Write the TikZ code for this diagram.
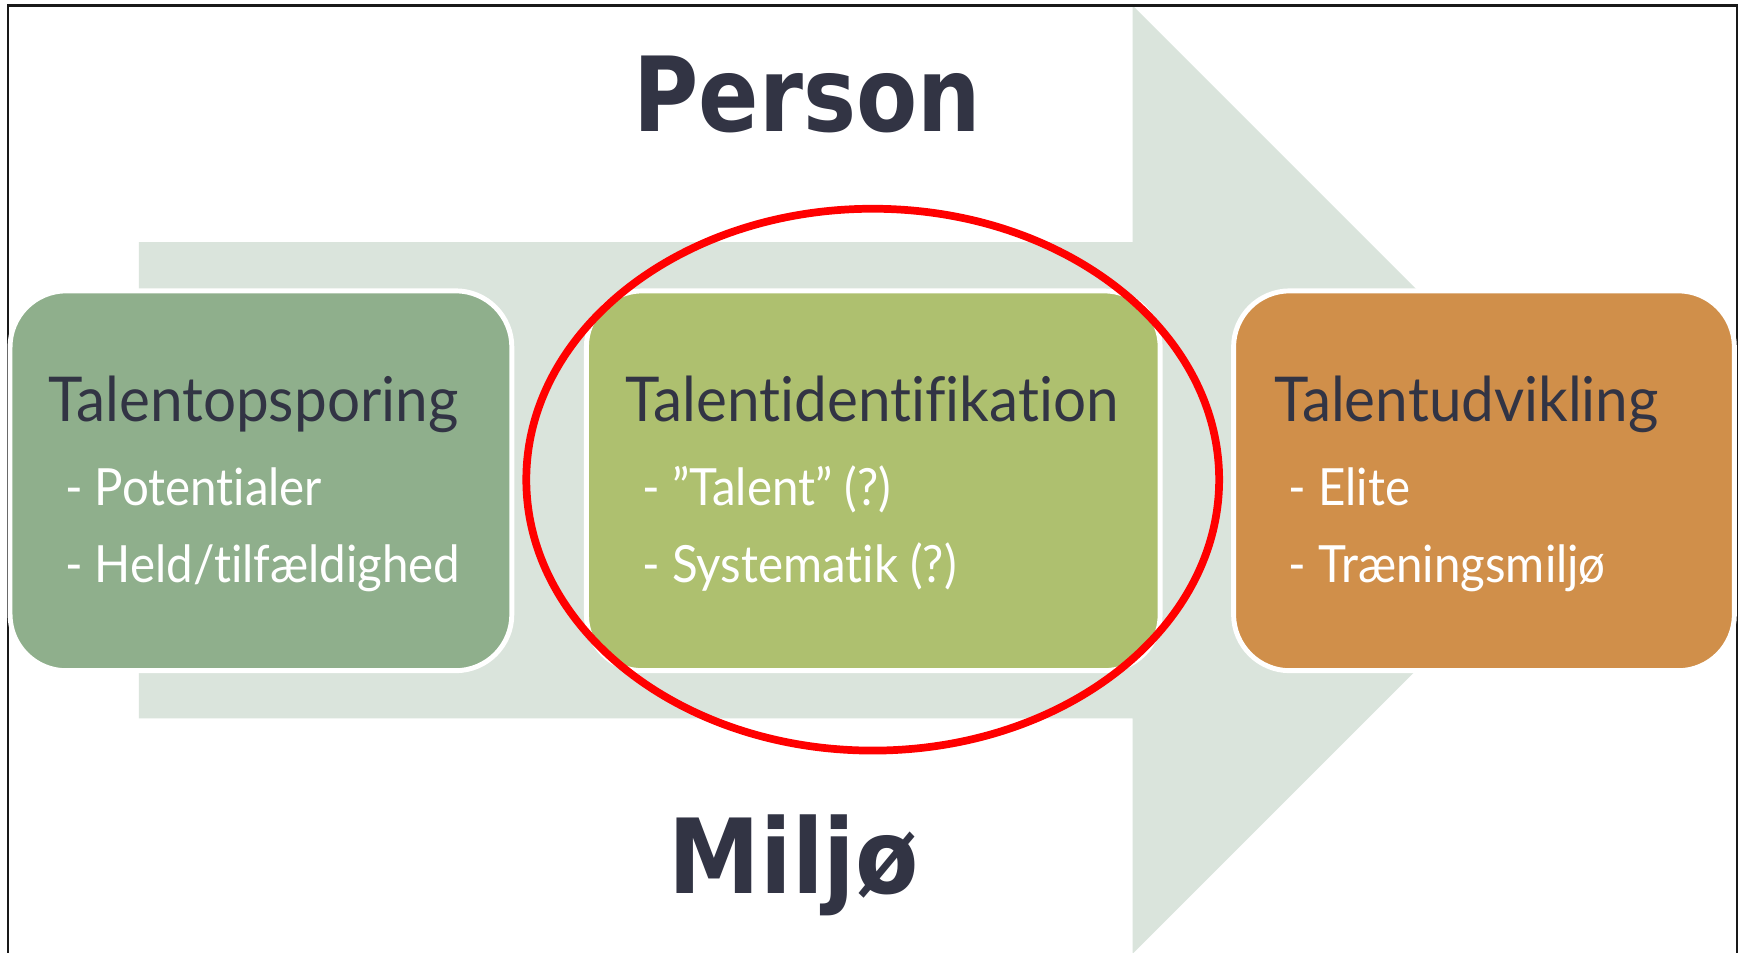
\documentclass[tikz,border=0pt]{standalone}
\usepackage{fontspec}
\setmainfont{Lato}
\newfontfamily\headfont{DejaVu Sans}
\newfontfamily\titlefont{Lato}[Ligatures=NoCommon,FakeStretch=0.945]
\newfontfamily\itemfont{Lato}[Ligatures=NoCommon,FakeStretch=0.925]
\definecolor{band}{HTML}{DAE4DC}
\definecolor{sporfill}{HTML}{8FAF8C}
\definecolor{identfill}{HTML}{AEC06F}
\definecolor{udvfill}{HTML}{D08F4A}
\definecolor{ink}{HTML}{323444}
\begin{document}
\begin{tikzpicture}[x=0.011103cm,y=-0.011103cm,
		stage/.style={rounded corners=16pt,draw=white,line width=1.4pt,inner sep=0pt,outer sep=0pt,minimum height=3.80cm},
		title/.style={anchor=base west,inner sep=0pt,text=ink,font=\titlefont\fontsize{17.6}{20}\selectfont},
		item/.style={anchor=base west,inner sep=0pt,text=white,font=\itemfont\fontsize{14.6}{17}\selectfont},
		big/.style={anchor=base,inner sep=0pt,text=ink,font=\headfont\bfseries\fontsize{29.5}{34}\selectfont}]
	\useasboundingbox (0,0) rectangle (1568,858);
	\fill[white] (0,0) rectangle (1568,858);
	% baggrundspil
	\fill[band] (125,218)--(1020,218)--(1020,5)--(1447,432)--(1020,859)--(1020,647)--(125,647)--cycle;
	\draw[line width=0.6pt,black!90] (7,5) rectangle (1564,880);
	% de tre faser
	\node[stage,fill=sporfill,minimum width=5.02cm] (spor) at (235,433) {};
	\node[stage,fill=identfill,minimum width=5.74cm] (ident) at (786.5,433) {};
	\node[stage,fill=udvfill,minimum width=5.01cm] (udv) at (1336.5,433) {};
	\node[title] (sporT) at (43,380) {Talentopsporing};
	\node[item] (spor1) at (58,455) {- Potentialer};
	\node[item] (spor2) at (58,525) {- Held/tilfældighed};
	\node[title] (identT) at (563,380) {Talentidentifikation};
	\node[item] (ident1) at (578,455) {- ”Talent” (?)};
	\node[item] (ident2) at (578,525) {- Systematik (?)};
	\node[title] (udvT) at (1147,380) {Talentudvikling};
	\node[item] (udv1) at (1160,455) {- Elite};
	\node[item] (udv2) at (1160,525) {- Træningsmiljø};
	% ring om midten
	\draw[red,line width=2.2pt] (786,432) ellipse (312 and 244);
	\node[big] (person) at (727,118) {\scalebox{0.86}[1]{Person}};
	\node[big] (miljo) at (715,805) {\scalebox{0.89}[1]{Miljø}};
\end{tikzpicture}
\end{document}
